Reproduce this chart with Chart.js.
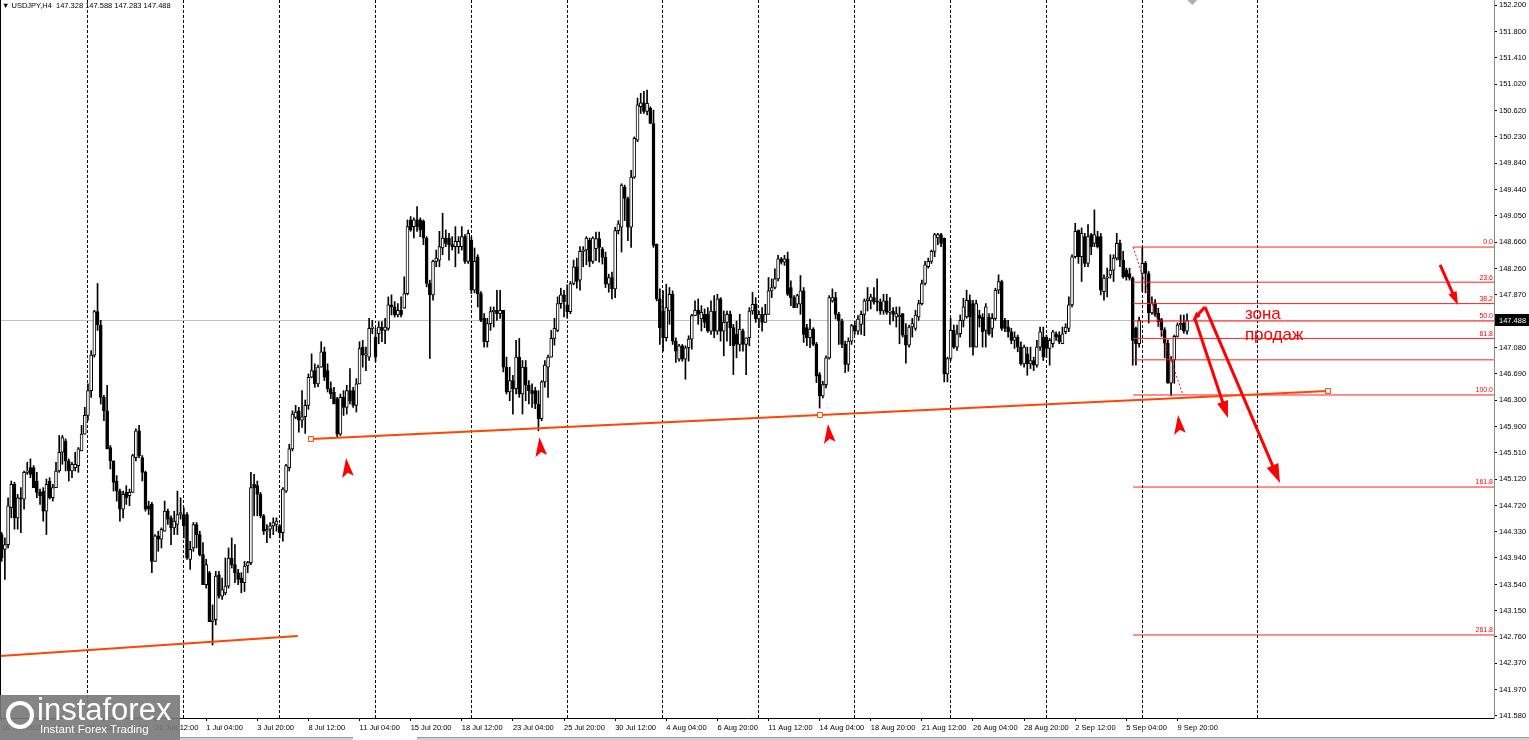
<!DOCTYPE html>
<html><head><meta charset="utf-8">
<script src="https://cdn.jsdelivr.net/npm/chart.js@4.4.1/dist/chart.umd.min.js"></script>
<style>
html,body{margin:0;padding:0;background:#fff;overflow:hidden}
#wrap{position:relative;width:1529px;height:740px;overflow:hidden}
#c{position:absolute;left:0;top:0}
#title{position:absolute;left:2px;top:0px;font:7.5px 'Liberation Sans',Arial,sans-serif;color:#000;white-space:pre;line-height:12px}
#logo{position:absolute;left:0;top:695px;width:180px;height:45px;background:rgba(120,120,120,0.9)}
#logo .ico{position:absolute;left:6px;top:6px;width:20px;height:20px;border:4px solid #fff;border-radius:50%}
#logo .t1{position:absolute;left:37px;top:-3px;font:31px 'Liberation Sans',Arial,sans-serif;color:#fff;line-height:36px}
#logo .t2{position:absolute;left:40px;top:27px;font:11.5px 'Liberation Sans',Arial,sans-serif;color:#fff;line-height:14px}
#strip1{position:absolute;left:180px;top:737px;width:173px;height:3px;background:#d0d0d0;border-top:1px solid #999}
#strip2{position:absolute;left:417px;top:737px;width:1112px;height:3px;background:#d0d0d0;border-top:1px solid #999}
</style></head>
<body><div id="wrap">
<canvas id="c" width="1529" height="740"></canvas>
<div id="title">▼ USDJPY,H4  147.328 147.588 147.283 147.488</div>
<div id="strip1"></div><div id="strip2"></div>
<div id="logo"><div class="ico"></div><div class="t1">instaforex</div><div class="t2">Instant Forex Trading</div></div>
</div>
<script>
// ---------- DATA (H4 bars, index 0 = 16 Jun 2025 12:00) ----------
const opens = [
// week 16 Jun
144.29,144.07,144.14,144.69,145.04,144.54,144.84,144.82,145.22,145.29,
145.29,145.09,144.92,144.94,144.64,145.09,144.84,144.99,145.24,145.52,
145.69,145.39,145.24,145.29,145.32,145.54,145.79,
// week 23 Jun
146.07,146.44,146.97,147.62,147.42,146.34,146.14,145.59,145.39,145.09,
144.94,144.67,144.92,144.87,144.92,145.44,145.84,145.44,145.22,144.72,
144.74,143.89,144.27,144.22,144.34,144.64,144.54,144.39,144.44,144.59,
// week 30 Jun
144.59,144.59,143.92,144.09,144.44,144.29,143.99,143.54,143.72,142.99,
143.02,143.69,143.37,143.42,143.52,143.94,143.84,143.72,143.64,143.57,
143.82,143.87,145.04,145.02,144.89,144.57,144.34,144.37,144.42,144.44,
// week 7 Jul
144.42,144.32,144.94,145.29,145.57,146.04,146.14,146.00,146.05,146.22,
146.64,146.74,146.54,146.79,147.02,146.74,146.47,146.42,146.32,145.79,
146.34,146.19,146.44,146.44,146.22,146.54,147.09,146.97,146.94,147.37,
// week 14 Jul
147.24,147.29,147.39,147.34,147.37,147.72,147.69,147.57,147.64,147.67,
147.89,148.99,148.89,148.99,148.99,148.97,148.72,148.04,147.87,148.37,
148.39,148.57,148.72,148.72,148.62,148.59,148.59,148.59,148.74,148.37,
// week 21 Jul
148.69,147.94,148.44,147.89,147.52,147.17,147.44,147.62,147.64,147.59,
147.64,146.79,146.42,146.59,146.47,146.94,146.39,146.79,146.52,146.44,
146.44,146.24,146.02,146.57,146.79,146.94,147.22,147.34,147.74,147.87,
// week 28 Jul
147.72,147.62,148.04,148.29,148.09,148.52,148.54,148.69,148.37,148.56,
148.71,148.56,148.43,148.03,148.13,147.96,148.83,148.88,149.48,149.31,
148.88,149.63,150.18,150.68,150.74,150.61,150.66,150.43,148.63,147.81,
// week 4 Aug
147.63,147.23,147.63,147.88,147.18,146.91,147.11,146.91,147.08,147.21,
147.56,147.64,147.51,147.58,147.58,147.33,147.63,147.33,147.81,147.33,
147.46,147.58,147.38,147.28,147.13,147.33,147.13,147.23,147.63,147.73,
// week 11 Aug
147.51,147.58,147.46,147.58,147.93,147.98,148.11,148.41,148.36,148.41,
147.98,147.83,147.73,147.73,147.93,147.38,147.23,147.36,147.13,146.68,
146.36,146.53,146.93,147.78,147.83,147.58,147.48,147.13,146.83,147.18,
// week 18 Aug
147.41,147.33,147.43,147.58,147.78,147.78,147.83,147.78,147.76,147.63,
147.78,147.61,147.63,147.54,147.54,147.59,147.27,147.12,147.39,147.37,
147.54,147.74,148.04,148.29,148.37,148.52,148.72,148.77,148.72,146.69,
// week 25 Aug
146.92,147.34,147.09,147.29,147.49,147.54,147.79,147.74,147.09,147.57,
147.54,147.34,147.54,147.37,147.52,147.94,148.07,147.49,147.39,147.32,
147.19,147.24,147.09,146.84,146.99,146.84,146.89,146.82,147.09,147.24,
// week 1 Sep
147.24,147.07,147.14,147.29,147.27,147.14,147.32,147.37,147.72,148.44,
148.84,148.44,148.74,148.34,148.77,148.64,148.74,148.74,147.92,148.12,
148.17,148.24,148.42,148.64,148.39,148.24,148.19,148.12,147.37,147.14,
// week 8 Sep
148.19,148.34,148.19,147.60,147.75,147.60,147.50,147.35,147.15,146.55,
146.90,147.25,147.42,147.45,147.328
];
const highs = [
144.32,144.24,144.84,145.09,145.07,144.89,144.99,145.24,145.37,145.42,
145.32,145.22,144.97,144.99,145.12,145.14,145.04,145.37,145.77,145.77,
145.72,145.42,145.37,145.52,145.59,145.92,146.19,
146.54,147.04,147.64,148.04,147.49,146.37,146.52,145.62,145.39,145.17,
144.97,144.94,145.02,144.97,145.49,145.87,145.92,145.47,145.24,144.79,
144.77,144.29,144.34,144.39,144.79,144.67,144.57,144.64,144.94,144.84,
144.69,144.62,144.19,144.47,144.47,144.34,144.17,143.92,143.74,143.24,
143.74,143.74,143.64,143.94,144.09,144.24,144.14,143.77,143.72,143.89,
143.89,145.22,145.19,145.09,144.92,144.59,144.44,144.47,144.54,144.54,
144.44,144.99,145.34,145.64,146.14,146.22,146.19,146.44,146.30,146.69,
146.99,146.84,146.82,147.17,147.09,146.84,146.57,146.49,146.34,146.39,
146.44,146.52,146.77,146.49,146.62,147.17,147.19,147.09,147.52,147.49,
147.37,147.47,147.47,147.52,147.84,147.87,147.77,147.74,147.84,148.14,
148.99,149.04,149.02,149.19,149.02,148.99,148.74,148.09,148.39,148.54,
148.82,149.09,148.84,148.79,148.74,148.89,148.74,148.89,148.77,148.84,
148.74,148.57,148.47,147.92,147.59,147.52,147.69,147.69,147.94,147.94,
147.64,146.94,146.79,146.67,147.19,147.22,146.89,146.89,146.59,146.54,
146.49,146.44,146.59,146.89,146.97,147.34,147.52,147.84,147.97,147.94,
148.02,148.07,148.39,148.42,148.59,148.59,148.74,148.72,148.74,148.81,
148.81,148.58,148.51,148.18,148.21,148.88,148.98,149.53,149.51,149.33,
149.73,150.23,150.81,150.88,150.91,150.93,150.68,150.63,148.63,147.96,
147.93,148.03,147.98,147.93,147.23,147.13,147.13,147.11,147.26,147.58,
147.78,147.81,147.71,147.66,147.68,147.78,147.86,147.88,147.83,147.63,
147.63,147.63,147.43,147.48,147.58,147.36,147.23,147.68,147.91,147.83,
147.63,147.68,147.73,148.13,148.11,148.26,148.46,148.43,148.46,148.51,
148.08,147.86,147.88,148.16,147.98,147.43,147.51,147.38,147.16,146.71,
146.58,146.96,147.86,147.96,147.91,147.61,147.51,147.18,147.23,147.43,
147.48,147.56,147.63,147.81,147.98,147.88,147.98,148.11,147.81,147.88,
147.88,147.83,147.68,147.69,147.69,147.59,147.44,147.42,147.52,147.64,
147.79,148.09,148.37,148.42,148.54,148.79,148.79,148.79,148.72,146.94,
147.52,147.42,147.42,147.57,147.82,147.94,147.87,147.79,147.79,147.64,
147.59,147.74,147.59,147.59,147.97,148.17,148.09,147.52,147.49,147.37,
147.32,147.27,147.17,147.12,147.09,147.09,146.94,147.19,147.39,147.39,
147.27,147.22,147.34,147.32,147.32,147.39,147.44,147.84,148.47,148.94,
148.84,148.87,148.79,148.92,148.79,149.14,148.82,148.79,148.17,148.27,
148.47,148.47,148.79,148.69,148.52,148.27,148.27,148.14,147.39,147.54,
148.585,148.37,148.22,147.84,147.80,147.67,147.52,147.38,147.20,146.95,
147.27,147.45,147.57,147.57,147.588
];
const lows = [
143.89,143.62,144.09,144.54,144.37,144.37,144.32,144.67,145.19,145.14,
144.99,144.84,144.74,144.49,144.29,144.82,144.79,144.99,145.22,145.34,
145.24,145.09,145.14,145.24,145.22,145.54,145.79,
146.00,146.34,146.94,147.34,146.24,145.99,145.57,145.27,144.94,144.79,
144.49,144.54,144.74,144.72,144.92,145.39,145.44,145.09,144.64,144.59,
143.72,143.89,144.04,144.09,144.34,144.44,144.14,144.29,144.29,144.52,
144.24,143.92,143.77,144.04,144.09,143.97,143.54,143.49,142.99,142.64,
142.94,143.34,143.32,143.39,143.49,143.79,143.57,143.54,143.42,143.44,
143.72,143.84,144.57,144.57,144.54,144.29,144.17,144.24,144.29,144.34,
144.24,144.19,144.92,145.24,145.54,146.02,145.82,145.89,145.80,146.16,
146.63,146.49,146.50,146.79,146.59,146.42,146.32,146.24,145.74,145.77,
146.07,146.09,146.24,146.19,146.12,146.54,146.79,146.74,146.89,147.29,
146.87,147.14,147.17,147.14,147.34,147.57,147.54,147.54,147.54,147.67,
147.87,148.82,148.72,148.82,148.74,148.62,147.99,146.92,147.79,148.29,
148.29,148.47,148.59,148.39,148.54,148.29,148.49,148.54,148.34,148.34,
147.89,147.90,147.69,147.47,147.09,147.09,147.34,147.39,147.49,147.52,
146.72,146.39,146.29,146.09,146.39,146.34,146.09,146.29,146.24,146.19,
146.17,145.84,145.99,146.49,146.34,146.94,147.12,147.32,147.67,147.54,
147.52,147.59,148.02,147.97,147.94,148.29,148.32,148.29,148.34,148.38,
148.36,148.33,147.98,147.91,147.81,147.83,148.78,148.51,148.98,148.68,
148.58,149.61,150.16,150.58,150.58,150.56,150.43,148.58,147.78,147.13,
147.03,147.18,147.43,147.13,146.86,146.88,146.88,146.61,146.88,147.06,
147.56,147.43,147.33,147.38,147.31,147.28,147.23,147.28,147.18,146.96,
147.18,147.11,146.68,146.93,147.03,147.03,146.68,147.11,147.58,147.46,
147.38,147.33,147.46,147.58,147.83,147.96,148.08,148.33,148.31,147.86,
147.71,147.68,147.68,147.58,147.16,147.11,147.08,147.11,146.56,146.18,
146.33,146.48,146.91,147.76,147.51,147.13,147.08,146.71,146.73,147.13,
147.28,147.28,147.28,147.26,147.63,147.66,147.73,147.63,147.58,147.58,
147.58,147.43,147.48,147.39,147.14,147.24,146.85,147.09,147.24,147.34,
147.49,147.72,148.02,148.27,148.34,148.44,148.62,148.59,146.57,146.57,
146.89,147.07,147.04,147.24,147.39,147.52,147.09,146.97,147.09,147.39,
147.09,147.09,147.27,147.24,147.49,147.89,147.34,147.32,147.24,147.14,
147.07,147.02,146.82,146.79,146.67,146.77,146.74,146.79,147.04,146.89,
146.94,146.82,147.09,147.19,147.14,147.14,147.29,147.32,147.69,148.42,
148.34,148.07,148.29,148.29,148.47,148.59,148.57,147.87,147.79,147.84,
148.12,148.07,148.39,148.29,148.12,148.09,148.09,146.82,146.82,147.09,
147.92,147.90,147.45,147.58,147.55,147.40,147.25,146.93,146.55,146.37,
146.55,147.24,147.35,147.30,147.283
];
const closes = [
143.94,144.14,144.72,145.04,144.54,144.84,144.82,145.22,145.24,145.19,
144.99,144.92,144.87,144.64,145.04,144.84,144.99,145.24,145.52,145.74,
145.39,145.24,145.34,145.34,145.57,145.79,146.07,
146.44,146.97,147.62,147.42,146.34,146.14,145.57,145.39,145.07,144.94,
144.67,144.89,144.84,144.92,145.47,145.84,145.47,145.22,144.67,144.67,
143.89,144.27,144.22,144.37,144.64,144.52,144.39,144.49,144.59,144.62,
144.42,143.94,144.07,144.44,144.29,143.99,143.54,143.84,142.99,143.01,
143.67,143.37,143.47,143.52,143.94,143.84,143.72,143.62,143.57,143.82,
143.87,144.99,144.99,144.89,144.57,144.34,144.37,144.42,144.47,144.49,
144.32,144.97,145.32,145.57,146.09,146.12,146.00,146.05,146.22,146.64,
146.74,146.54,146.79,147.02,146.64,146.47,146.39,146.24,145.79,146.34,
146.19,146.44,146.29,146.22,146.54,147.07,146.97,146.99,147.37,147.39,
146.94,147.39,147.34,147.39,147.72,147.69,147.57,147.64,147.57,147.89,
148.89,148.84,148.99,148.89,148.84,148.72,148.04,147.87,148.37,148.42,
148.59,148.72,148.64,148.62,148.59,148.67,148.67,148.74,148.37,148.79,
147.94,148.37,147.89,147.49,147.17,147.44,147.62,147.64,147.59,147.64,
146.79,146.42,146.59,146.47,146.94,146.39,146.79,146.52,146.44,146.39,
146.24,146.02,146.57,146.82,146.94,147.22,147.37,147.74,147.87,147.77,
147.62,148.04,148.29,148.07,148.52,148.54,148.72,148.37,148.72,148.71,
148.58,148.43,148.03,148.13,147.96,148.83,148.93,149.51,149.31,148.88,
149.63,150.21,150.71,150.74,150.61,150.73,150.43,148.61,147.81,147.38,
147.23,147.68,147.88,147.18,147.03,147.11,146.91,147.08,147.21,147.56,
147.64,147.58,147.61,147.46,147.33,147.63,147.33,147.81,147.33,147.46,
147.58,147.38,147.11,147.13,147.36,147.13,147.23,147.63,147.73,147.51,
147.58,147.46,147.58,147.93,147.98,148.11,148.41,148.36,148.41,147.88,
147.83,147.68,147.86,147.93,147.28,147.23,147.36,147.13,146.66,146.36,
146.53,146.93,147.83,147.83,147.58,147.48,147.13,146.83,147.18,147.41,
147.33,147.51,147.58,147.78,147.81,147.84,147.76,147.76,147.63,147.78,
147.61,147.63,147.58,147.59,147.57,147.27,147.12,147.39,147.44,147.57,
147.74,148.04,148.32,148.37,148.52,148.77,148.77,148.64,146.69,146.92,
147.34,147.09,147.29,147.49,147.69,147.79,147.54,147.09,147.74,147.52,
147.32,147.69,147.29,147.52,147.94,148.07,147.37,147.37,147.32,147.19,
147.24,147.09,146.84,147.09,146.84,146.89,146.82,147.09,147.32,146.94,
147.07,147.19,147.32,147.24,147.17,147.29,147.39,147.72,148.44,148.82,
148.44,148.79,148.34,148.74,148.59,148.77,148.59,147.94,148.12,148.14,
148.24,148.42,148.64,148.39,148.14,148.14,148.12,147.19,147.14,147.49,
148.34,148.19,147.60,147.75,147.58,147.47,147.35,147.15,146.55,146.90,
147.25,147.42,147.45,147.33,147.488
];

// axis ticks
const yTicks = [152.200,151.800,151.410,151.020,150.620,150.230,149.840,149.440,149.050,148.660,148.260,147.870,
  147.080,146.690,146.300,145.900,145.510,145.120,144.720,144.330,143.940,143.540,143.150,142.760,142.370,141.970,141.580];
const tickBars = [0,16,32,48,64,80,96,112,128,144,160,176,192,208,224,240,256,272,288,304,320,336,352,368];
const tickLabels = ['16 Jun 2025','19 Jun 04:00','23 Jun 20:00','26 Jun 12:00','1 Jul 04:00','3 Jul 20:00','8 Jul 12:00',
  '11 Jul 04:00','15 Jul 20:00','18 Jul 12:00','23 Jul 04:00','25 Jul 20:00','30 Jul 12:00','4 Aug 04:00','6 Aug 20:00',
  '11 Aug 12:00','14 Aug 04:00','18 Aug 20:00','21 Aug 12:00','26 Aug 04:00','28 Aug 20:00','2 Sep 12:00','5 Sep 04:00','9 Sep 20:00'];
const weekStarts = [27,57,87,117,147,177,207,237,267,297,327,357,393];

// drawings (bar index, price)
const currentPrice = 147.488;
const fibPrices = [148.585,148.06,147.74,147.48,147.22,146.90,146.375,145.00,142.79];
const fibLabels = ['0.0','23.6','38.2','50.0','61.8','','100.0','161.8','261.8'];
const fibStart = 354.1;
const fibDiag = [[354.1,148.585],[369.7,146.375]];
const trend1 = [[-1,142.475],[92.7,142.776]];
const trend2 = [[96.8,145.718],[256.1,146.077],[415.1,146.435]];
const bigArrows = [[450.2,148.317,455.8,147.72,14],[373.5,147.51,383.8,146.03,18],[376.6,147.69,400.1,145.06,20],[376.6,147.69,372.6,147.48,10]];
const marks = [[107.8,145.434],[168.3,145.743],[258.6,145.942],[368.2,146.076]];
const zoneText = [['зона',389.1,147.51],['продаж',389.1,147.197]];
const shiftBar = 372.6;

if (opens.length!==372||highs.length!==372||lows.length!==372||closes.length!==372)
  throw new Error('len '+opens.length+' '+highs.length+' '+lows.length+' '+closes.length);

const FONT = "'Liberation Sans', Arial, sans-serif";
const XMIN = -0.53, XMAX = 467.07;

const wickData = lows.map((l,i)=>({x:i,y:[l,highs[i]]}));
const bodyData = opens.map((o,i)=>({x:i,y:[o,closes[i]]}));
const pts = a => a.map(p=>({x:p[0],y:p[1]}));

const datasets = [];
datasets.push({type:'line',data:pts(trend1),borderColor:'#ff4500',borderWidth:2,pointRadius:0,order:0});
datasets.push({type:'line',data:pts(trend2),borderColor:'#ff4500',borderWidth:2,pointRadius:3.5,pointStyle:'rect',
  pointBackgroundColor:'#fff',pointBorderColor:'#ff4500',pointBorderWidth:1,order:0});
fibPrices.forEach(p=>datasets.push({type:'line',data:[{x:fibStart,y:p},{x:XMAX,y:p}],borderColor:'#ff2020',borderWidth:1,pointRadius:0,order:0}));
datasets.push({type:'line',data:pts(fibDiag),borderColor:'#ff0000',borderWidth:1,borderDash:[2,2],pointRadius:0,order:0});
datasets.push({type:'bar',data:bodyData,grouped:false,barThickness:3,minBarLength:1,borderSkipped:false,
  backgroundColor:c=>closes[c.dataIndex]>=opens[c.dataIndex]?'#ffffff':'#000000',borderColor:'#000',borderWidth:1,order:1});
datasets.push({type:'bar',data:wickData,grouped:false,barThickness:1,minBarLength:1,borderSkipped:false,
  backgroundColor:'#000',borderWidth:0,order:2});
datasets.push({type:'line',data:[{x:XMIN,y:currentPrice},{x:XMAX,y:currentPrice}],borderColor:'#c0c0c0',borderWidth:1,pointRadius:0,order:3});

function arrowTo(ctx,x1,y1,x2,y2,head){
  const a=Math.atan2(y2-y1,x2-x1);
  ctx.beginPath();ctx.moveTo(x1,y1);ctx.lineTo(x2-Math.cos(a)*head*0.7,y2-Math.sin(a)*head*0.7);ctx.stroke();
  const w=0.32;
  ctx.beginPath();ctx.moveTo(x2,y2);
  ctx.lineTo(x2-head*Math.cos(a-w),y2-head*Math.sin(a-w));
  ctx.lineTo(x2-head*Math.cos(a+w),y2-head*Math.sin(a+w));
  ctx.closePath();ctx.fill();
}

const overlay = {
  id:'overlay',
  beforeDatasetsDraw(chart){
    const {ctx,chartArea:a,scales:{x}}=chart;
    ctx.save();
    ctx.beginPath();ctx.rect(a.left,a.top,a.right-a.left,a.bottom-a.top);ctx.clip();
    ctx.strokeStyle='#000';ctx.lineWidth=1;ctx.setLineDash([3,2]);
    weekStarts.forEach(b=>{const px=Math.round(x.getPixelForValue(b-0.2))+0.5;
      ctx.beginPath();ctx.moveTo(px,a.top);ctx.lineTo(px,a.bottom);ctx.stroke();});
    ctx.restore();
  },
  afterDatasetsDraw(chart){
    const {ctx,chartArea:a,scales:{x,y}}=chart;
    ctx.save();
    ctx.beginPath();ctx.rect(a.left,a.top,a.right-a.left,a.bottom-a.top);ctx.clip();
    ctx.fillStyle='#ff0000';ctx.font='7px '+FONT;ctx.textAlign='right';ctx.textBaseline='bottom';
    fibPrices.forEach((p,i)=>{ if(fibLabels[i]) ctx.fillText(fibLabels[i],a.right-1,y.getPixelForValue(p)-1); });
    ctx.strokeStyle='#ff0000';ctx.fillStyle='#ff0000';ctx.lineWidth=3;ctx.lineCap='butt';
    bigArrows.forEach(r=>arrowTo(ctx,x.getPixelForValue(r[0]),y.getPixelForValue(r[1]),x.getPixelForValue(r[2]),y.getPixelForValue(r[3]),r[4]));
    marks.forEach(([b,p])=>{const tx=x.getPixelForValue(b),ty=y.getPixelForValue(p);
      ctx.beginPath();ctx.moveTo(tx,ty);ctx.lineTo(tx-4,ty+20);ctx.lineTo(tx+1.7,ty+14.7);ctx.lineTo(tx+7.7,ty+17.7);ctx.closePath();ctx.fill();});
    ctx.font='17px '+FONT;ctx.textAlign='left';ctx.textBaseline='alphabetic';
    zoneText.forEach(([t,b,p])=>ctx.fillText(t,x.getPixelForValue(b),y.getPixelForValue(p)));
    const sx=x.getPixelForValue(shiftBar);
    ctx.fillStyle='#b0b0b0';ctx.beginPath();ctx.moveTo(sx-5,a.top);ctx.lineTo(sx+5,a.top);ctx.lineTo(sx,a.top+5);ctx.closePath();ctx.fill();
    ctx.restore();
  },
  afterDraw(chart){
    const {ctx,chartArea:a,scales:{y}}=chart;
    ctx.save();
    ctx.fillStyle='#000';ctx.fillRect(a.left,a.top,1,a.bottom-a.top);
    const py=y.getPixelForValue(currentPrice);
    ctx.fillRect(a.right+1,Math.round(py)-6,40,12);
    ctx.fillStyle='#fff';ctx.font='7.5px '+FONT;ctx.textAlign='left';ctx.textBaseline='middle';
    ctx.fillText(currentPrice.toFixed(3),a.right+5,py);
    ctx.restore();
  }
};

new Chart(document.getElementById('c'),{
  type:'bar',
  data:{datasets},
  options:{
    responsive:false,animation:false,devicePixelRatio:1,
    layout:{padding:0,autoPadding:false},
    plugins:{legend:{display:false},tooltip:{enabled:false},title:{display:false}},
    scales:{
      x:{type:'linear',min:XMIN,max:XMAX,offset:false,
        afterBuildTicks:s=>{s.ticks=tickBars.map(v=>({value:v}));},
        afterFit:s=>{s.height=22;s.paddingLeft=0;s.paddingRight=0;},
        ticks:{autoSkip:false,maxRotation:0,minRotation:0,align:'start',padding:2,color:'#000',
          font:{family:FONT,size:7.5},callback:(v,i)=>tickLabels[i]},
        grid:{drawOnChartArea:false,offset:false,tickLength:3,color:'#000'},
        border:{display:true,color:'#000',width:1}},
      y:{type:'linear',position:'right',min:141.55,max:152.275,
        afterBuildTicks:s=>{s.ticks=yTicks.map(v=>({value:v}));},
        afterFit:s=>{s.width=35;s.paddingTop=0;s.paddingBottom=0;},
        ticks:{autoSkip:false,padding:2,color:'#000',font:{family:FONT,size:7.5},callback:v=>v.toFixed(3)},
        grid:{drawOnChartArea:false,tickLength:3,color:'#000'},
        border:{display:true,color:'#888',width:1}}
    }
  },
  plugins:[overlay]
});
</script>
</body></html>
